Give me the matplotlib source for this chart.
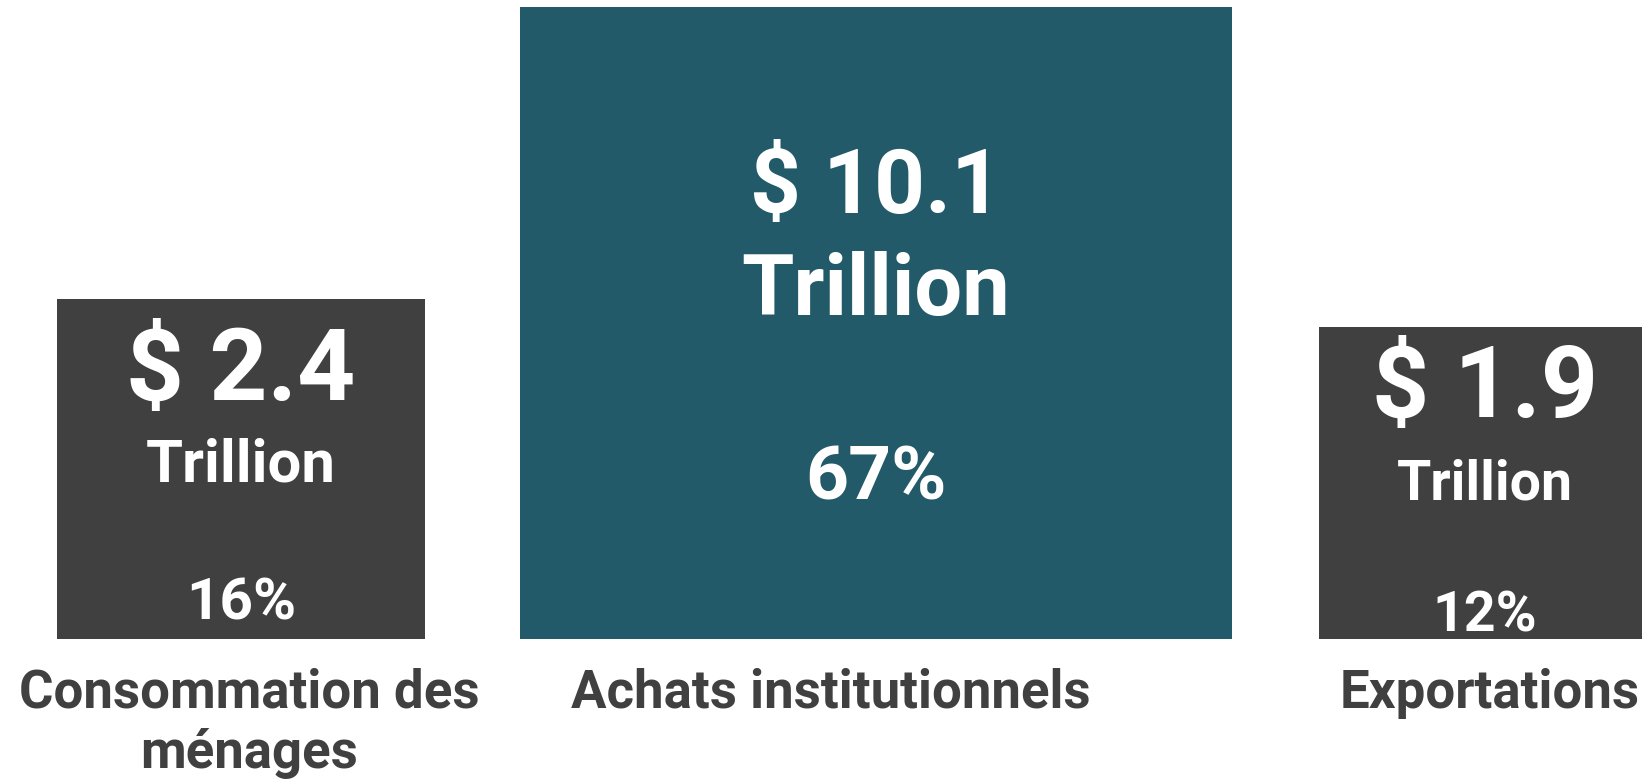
import matplotlib.pyplot as plt

# values shown in each box
categories = ["Consommation des\nménages", "Achats institutionnels", "Exportations"]
amounts = [2.4, 10.1, 1.9]
shares = [16, 67, 12]

# box layout, in pixels of the 1642x781 canvas
BASE = 639
box_left = [57, 520, 1319]
box_w = [368, 712, 332]
box_h = [340, 632, 312]
box_colors = ['#404040', '#235a69', '#404040']

# text layout per box: (baseline, fontsize)
amount_style = [(400, 73), (213, 64), (417, 72)]
unit_style = [(482, 43), (315, 61), (500, 40)]
share_style = [(620, 42), (500, 54), (632, 40)]
label_base = 708
label_gap = 60
label_size = 38
label_x = [249, 831, 1490]

plt.rcParams['font.family'] = ['Roboto', 'DejaVu Sans']

fig = plt.figure(figsize=(16.42, 7.81), dpi=100)
ax = fig.add_axes([0, 0, 1, 1])
ax.set_xlim(0, 1642)
ax.set_ylim(781, 0)
ax.axis('off')

centers = [l + w / 2 for l, w in zip(box_left, box_w)]
bottoms = [BASE - h for h in box_h]
ax.bar(centers, box_h, width=box_w, bottom=bottoms, color=box_colors, linewidth=0)

for i, cx in enumerate(centers):
    y, fs = amount_style[i]
    ax.text(cx, y, f"$ {amounts[i]}", color='white', fontsize=fs, fontweight='bold',
            ha='center', va='baseline')
    y, fs = unit_style[i]
    ax.text(cx, y, "Trillion", color='white', fontsize=fs, fontweight='bold',
            ha='center', va='baseline')
    y, fs = share_style[i]
    ax.text(cx, y, f"{shares[i]}%", color='white', fontsize=fs, fontweight='bold',
            ha='center', va='baseline')

# category labels, one text per line so each baseline is placed exactly
for x, lab in zip(label_x, categories):
    for k, line in enumerate(lab.split('\n')):
        ax.text(x, label_base + k * label_gap, line, color='#404040', fontsize=label_size,
                fontweight='bold', ha='center', va='baseline')

fig.savefig('out.png', dpi=100)
